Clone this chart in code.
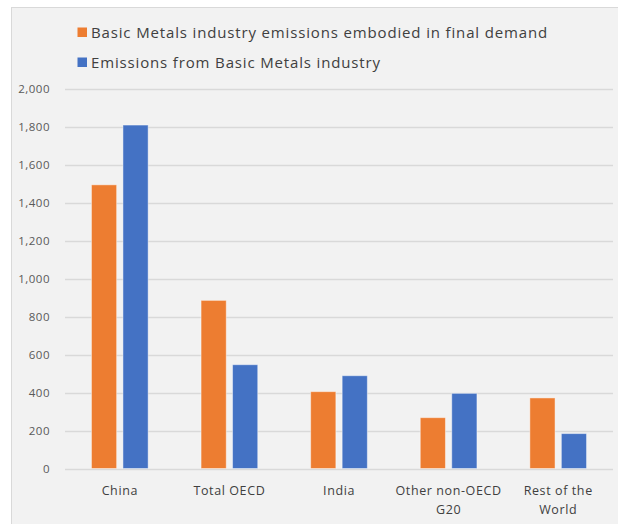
<!DOCTYPE html>
<html>
<head>
<meta charset="utf-8">
<script src="https://cdn.jsdelivr.net/npm/d3@7"></script>
<style>
  body { margin: 0; background: #fff; }
  svg { display: block; font-family: "Open Sans", Lato, sans-serif; }
</style>
</head>
<body>
<div class="chart"></div>
<script>
const categories = [['China'], ['Total OECD'], ['India'], ['Other non-OECD', 'G20'], ['Rest of the', 'World']]
const seriesNames = [
  'Basic Metals industry emissions embodied in final demand',
  'Emissions from Basic Metals industry',
]
const embodied = [1495, 886, 405, 268, 372]
const direct = [1810, 547, 489, 396, 184]
const yTicks = [0, 200, 400, 600, 800, 1000, 1200, 1400, 1600, 1800, 2000]
const colors = ['#ED7D31', '#4472C4']

const width = 618
const height = 524
const margin = { top: 89, right: 5, bottom: 55, left: 65 }

const svg = d3
  .select('.chart')
  .append('svg')
  .attr('width', width)
  .attr('height', height)

// panel background
svg
  .append('rect')
  .attr('x', 11.5)
  .attr('y', 7.5)
  .attr('width', width)
  .attr('height', height)
  .attr('fill', '#f2f2f2')
  .attr('stroke', '#d9d9d9')

const x0 = d3
  .scaleBand()
  .domain(d3.range(categories.length))
  .range([margin.left, width - margin.right])

const x1 = d3
  .scaleBand()
  .domain([0, 1])
  .range([0, x0.bandwidth()])
  .paddingInner(0.2)
  .paddingOuter(0.84)

const y = d3
  .scaleLinear()
  .domain([0, 2000])
  .range([height - margin.bottom - 0.5, margin.top])

// gridlines
svg
  .append('g')
  .selectAll('line')
  .data(yTicks)
  .enter()
  .append('line')
  .attr('x1', margin.left)
  .attr('x2', width - margin.right)
  .attr('y1', d => Math.round(y(d)) + 0.5)
  .attr('y2', d => Math.round(y(d)) + 0.5)
  .attr('stroke', '#d9d9d9')
  .attr('stroke-width', 1.5)

// y axis labels
const yAxis = svg
  .append('g')
  .attr('transform', `translate(${margin.left - 12},0)`)
  .call(
    d3
      .axisLeft(y)
      .tickValues(yTicks)
      .tickSize(0)
      .tickFormat(d3.format(','))
  )
yAxis.select('.domain').remove()
yAxis
  .selectAll('text')
  .attr('fill', '#595959')
  .attr('font-size', 11.5)
  .attr('letter-spacing', 0.5)
  .attr('font-family', '"Open Sans", sans-serif')

// bars
const rows = categories.map((c, i) => [embodied[i], direct[i]])
const groups = svg
  .append('g')
  .selectAll('g')
  .data(rows)
  .enter()
  .append('g')
  .attr('transform', (d, i) => `translate(${x0(i)},0)`)

groups
  .selectAll('rect')
  .data(d => d)
  .enter()
  .append('rect')
  .attr('x', (d, j) => x1(j))
  .attr('y', d => y(d))
  .attr('width', x1.bandwidth())
  .attr('height', d => y(0) - y(d))
  .attr('fill', (d, j) => colors[j])
  .attr('stroke', 'rgba(255,255,255,0.45)')
  .attr('stroke-width', 1)

// x labels
const xLabels = svg
  .append('g')
  .selectAll('text')
  .data(categories)
  .enter()
  .append('text')
  .attr('x', (d, i) => x0(i) + x0.bandwidth() / 2)
  .attr('y', 495)
  .attr('text-anchor', 'middle')
  .attr('fill', '#404040')
  .attr('font-size', 12.5)
  .attr('letter-spacing', 0.6)

xLabels
  .selectAll('tspan')
  .data(d => d)
  .enter()
  .append('tspan')
  .attr('x', function () {
    return this.parentNode.getAttribute('x')
  })
  .attr('dy', (d, j) => (j === 0 ? 0 : 19))
  .text(d => d)

// legend
const legend = svg
  .append('g')
  .selectAll('g')
  .data(seriesNames)
  .enter()
  .append('g')
  .attr('transform', (d, i) => `translate(77.5,${27.5 + i * 30})`)

legend
  .append('rect')
  .attr('width', 9.5)
  .attr('height', 9.5)
  .attr('fill', (d, i) => colors[i])

legend
  .append('text')
  .attr('x', 13.5)
  .attr('y', 10)
  .attr('fill', '#404040')
  .attr('font-size', 15)
  .attr('letter-spacing', 0.85)
  .text(d => d)
</script>
</body>
</html>
